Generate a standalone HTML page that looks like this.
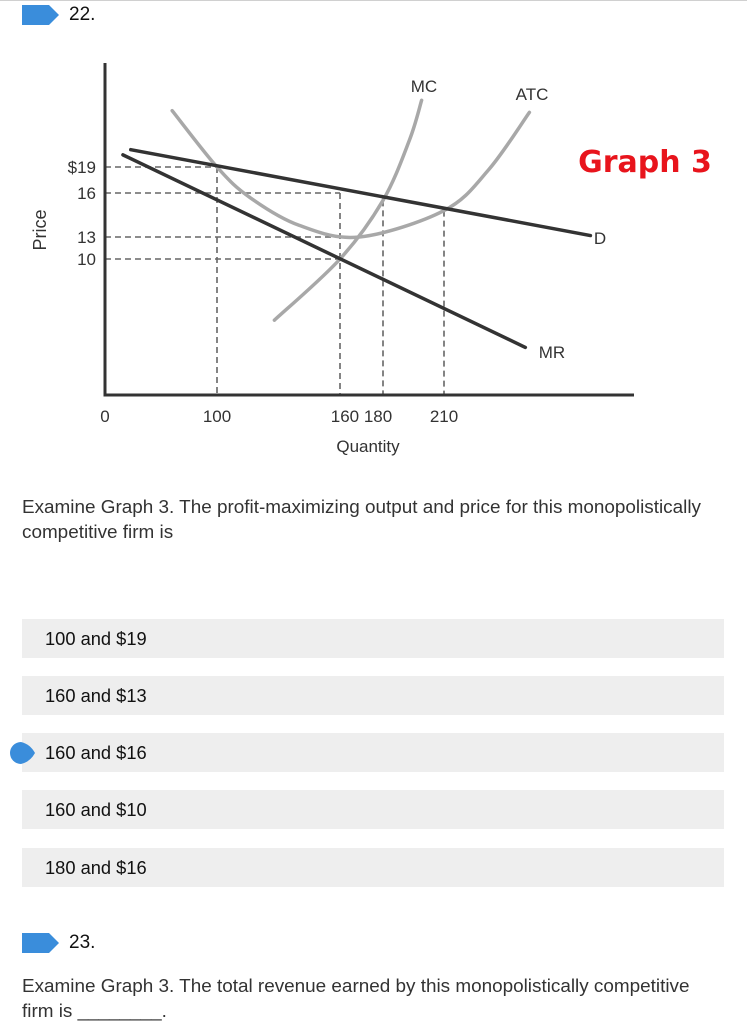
<!DOCTYPE html>
<html><head><meta charset="utf-8">
<style>
html,body{margin:0;padding:0;background:#fff;width:747px;height:1024px;overflow:hidden;font-family:"Liberation Sans",Arial,sans-serif;color:#222;}
.abs{position:absolute;}
.topline{left:0;top:0;width:747px;height:1px;background:#d0d0d0;}
.qnum{font-size:19px;color:#111;}
.qtext{font-size:18.9px;color:#333;line-height:25px;left:22px;width:700px;}
.opt{left:22px;width:702px;height:39px;background:#eeeeee;font-size:18.3px;color:#111;line-height:39px;}
.opt span{position:absolute;left:23px;}
</style></head>
<body>
<div class="abs topline"></div>
<svg class="abs" style="left:22px;top:5px" width="38" height="21"><polygon points="0,0 27,0 37,10 27,20 0,20" fill="#3a8ddb"/></svg>
<div class="abs qnum" style="left:69px;top:4px">22.</div>

<svg id="chart" class="abs" style="left:0;top:40px" width="747" height="430"></svg>

<div class="abs qtext" style="top:495px">Examine Graph 3. The profit-maximizing output and price for this monopolistically competitive firm is</div>

<div class="abs opt" style="top:619px"><span>100 and $19</span></div>
<div class="abs opt" style="top:676px"><span>160 and $13</span></div>
<div class="abs opt" style="top:733px"><span>160 and $16</span></div>
<div class="abs opt" style="top:790px"><span>160 and $10</span></div>
<div class="abs opt" style="top:848px"><span>180 and $16</span></div>
<svg class="abs" style="left:10px;top:742px" width="26" height="22"><path d="M11,0 A11,11 0 1,0 11,22 Q20,20 25,11 Q20,2 11,0Z" fill="#3a8ddb"/></svg>

<svg class="abs" style="left:22px;top:933px" width="38" height="21"><polygon points="0,0 27,0 37,10 27,20 0,20" fill="#3a8ddb"/></svg>
<div class="abs qnum" style="left:69px;top:932px">23.</div>
<div class="abs qtext" style="top:974px">Examine Graph 3. The total revenue earned by this monopolistically competitive firm is ________.</div>

<script>
const xTickValues=[0,100,160,180,210];
const yTickValues=[0,10,13,16,19];
const xTickLabels=["0","100","160 180","","210"];
const yTickLabels=["","10","13","16","$19"];
const dQ=[23,282], dP=[21,13.1];
const mrQ=[16,250], mrP=[20.4,3.5];
const atcQ=[60,100,116,140,169,210,232,252], atcP=[25.5,19,15.7,13.8,13,14.8,18.7,25.3];
const mcQ=[128,160,180,193,199], mcP=[5.5,10,15.5,22.1,26.7];
const guideQ=[100,160,180,210];
const guideP=[19,16,13,10];

const xPix=[105,217,340,383,444], yPix=[395-40,259-40,237-40,193-40,167-40];
function interp(v,vals,pix){
  let i=0; if(v<=vals[0]) i=0; else if(v>=vals[vals.length-1]) i=vals.length-2;
  else {while(v>vals[i+1]) i++;}
  return pix[i]+(v-vals[i])*(pix[i+1]-pix[i])/(vals[i+1]-vals[i]);
}
const X=q=>interp(q,xTickValues,xPix), Y=p=>interp(p,yTickValues,yPix);
const svg=document.getElementById('chart'), NS='http://www.w3.org/2000/svg';
function mk(t,a,txt){const e=document.createElementNS(NS,t);for(const k in a)e.setAttribute(k,a[k]);if(txt!==undefined)e.textContent=txt;svg.appendChild(e);return e;}
function smooth(pts){let d='M'+pts[0][0]+','+pts[0][1];
  for(let i=0;i<pts.length-1;i++){const p0=pts[i-1]||pts[i],p1=pts[i],p2=pts[i+1],p3=pts[i+2]||p2;
    d+=' C'+(p1[0]+(p2[0]-p0[0])/6)+','+(p1[1]+(p2[1]-p0[1])/6)+' '+(p2[0]-(p3[0]-p1[0])/6)+','+(p2[1]-(p3[1]-p1[1])/6)+' '+p2[0]+','+p2[1];}
  return d;}
const dash={stroke:'#666','stroke-width':1.6,'stroke-dasharray':'6,4',fill:'none'};
const guideTop=[19,16,15.5,14.8];
guideQ.forEach((q,i)=>{
  const l=mk('line',Object.assign({x1:X(q),x2:X(q),y1:Y(guideTop[i]),y2:Y(0)},dash));
  
  });
const hEnd={19:100,16:160,13:160,10:160};
guideP.forEach(p=>{const l=mk('line',Object.assign({x1:X(0),x2:X(hEnd[p]),y1:Y(p),y2:Y(p)},dash));
  
  });
const atc=mk('path',{d:smooth(atcQ.map((q,i)=>[X(q),Y(atcP[i])])),stroke:'#a8a8a8','stroke-width':3.5,fill:'none','stroke-linecap':'round'});


const mc=mk('path',{d:smooth(mcQ.map((q,i)=>[X(q),Y(mcP[i])])),stroke:'#a8a8a8','stroke-width':3.5,fill:'none','stroke-linecap':'round'});


const dl=mk('line',{x1:X(dQ[0]),y1:Y(dP[0]),x2:X(dQ[1]),y2:Y(dP[1]),stroke:'#333','stroke-width':3.5,'stroke-linecap':'round'});


const mr=mk('line',{x1:X(mrQ[0]),y1:Y(mrP[0]),x2:X(mrQ[1]),y2:Y(mrP[1]),stroke:'#333','stroke-width':3.5,'stroke-linecap':'round'});


const ax=mk('path',{d:'M105,23 L105,355 L634,355',stroke:'#333','stroke-width':3,fill:'none'});


const f='font-family:"Liberation Sans",Arial,sans-serif;fill:#333;';
xTickValues.forEach((v,i)=>{if(!xTickLabels[i])return;
  let x=X(v); if(i===2) x=X(170);
  const t=mk('text',{x:x,y:382,'text-anchor':'middle',style:f+'font-size:17px'},xTickLabels[i]);
  
  });
yTickValues.forEach((v,i)=>{if(!yTickLabels[i])return;
  const t=mk('text',{x:96,y:Y(v)+6,'text-anchor':'end',style:f+'font-size:17px'},yTickLabels[i]);
  
  });
const xt=mk('text',{x:368,y:412,'text-anchor':'middle',style:f+'font-size:17px'},'Quantity');


const yt=mk('text',{x:0,y:0,transform:'translate(46,190) rotate(-90)','text-anchor':'middle',style:f+'font-size:18px'},'Price');


[['MC',424,52,'mc-label'],['ATC',532,60,'atc-label'],['D',600,204,'d-label'],['MR',552,318,'mr-label']].forEach(a=>{
  const t=mk('text',{x:a[1],y:a[2],'text-anchor':'middle',style:f+'font-size:17px'},a[0]);
  
  });
const g=mk('text',{x:645,y:132,'text-anchor':'middle',style:'font-family:"DejaVu Sans","Liberation Sans",sans-serif;font-weight:bold;font-size:30px;fill:#e8141c'},'Graph 3');


</script>
</body></html>
